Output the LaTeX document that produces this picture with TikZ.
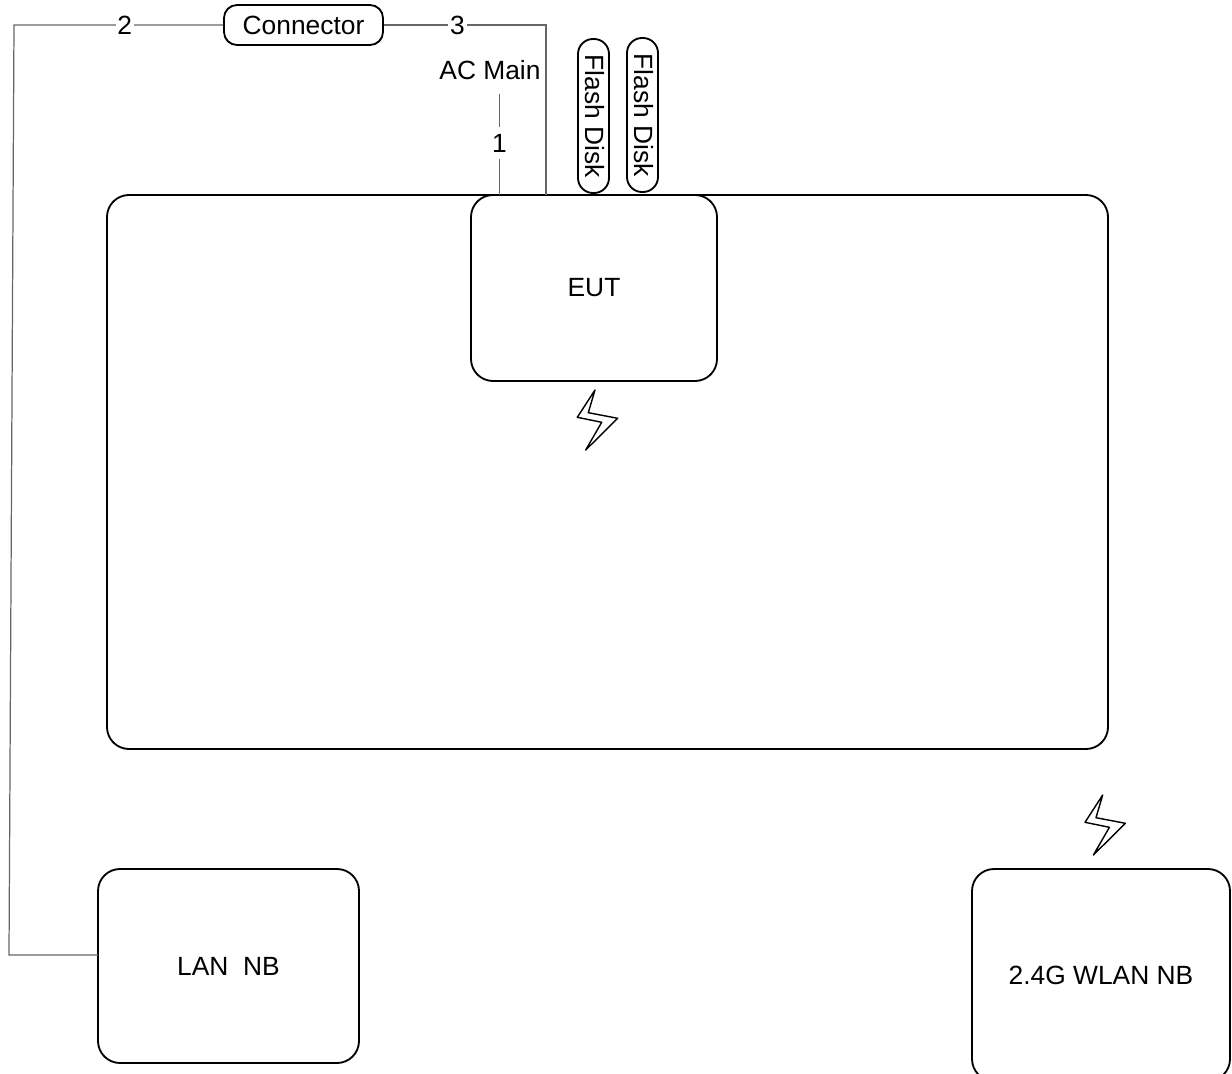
\documentclass[tikz,border=0pt]{standalone}
\usepackage{fontspec}
\setmainfont{Liberation Sans}
\usetikzlibrary{positioning,calc}
\definecolor{cable}{HTML}{666666}

\begin{document}
\begin{tikzpicture}[
  font=\fontsize{15}{18}\selectfont,
  box/.style={draw, line width=1.05pt, rounded corners=0.44cm, align=center, inner sep=0pt},
  disk/.style={box, rounded corners=0.3cm, rotate=-90, text depth=2pt, minimum width=3.08cm, minimum height=0.62cm},
  wire/.style={draw=cable, line width=0.7pt},
  num/.style={fill=white, inner xsep=1pt, inner ysep=4pt},
  bolt/.pic={\draw[line width=0.8pt, line join=round]
    (0,0) -- (-.354,-.546) -- (.134,-.646) -- (-.186,-1.2) -- (.454,-.566) -- (-.134,-.454) -- cycle;}
]
  \useasboundingbox (0,0) rectangle (24.64,-21.48);

  % --- room and EUT
  \node[box, minimum width=20.02cm, minimum height=11.08cm] (room) at (12.15,-9.44) {};
  \node[box, minimum width=4.92cm, minimum height=3.72cm] (eut) at (11.88,-5.76) {EUT};
  \node[disk] (flashA) at (11.87,-2.32) {Flash Disk};
  \node[disk] (flashB) at (12.85,-2.30) {Flash Disk};
  \pic (boltA) at (11.9,-7.8) {bolt};

  % --- outside the room
  \node[box, rounded corners=0.26cm, minimum width=3.18cm, minimum height=0.8cm] (conn) at (6.07,-0.5) {Connector};
  \node[box, minimum width=5.22cm, minimum height=3.88cm] (lan) at (4.57,-19.32) {LAN\ \ NB};
  \node[box, minimum width=5.16cm, minimum height=4.24cm] (wlan) at (22.02,-19.5) {2.4G WLAN NB};
  \pic (boltB) at (22.054,-15.9) {bolt};
  \node[inner sep=0pt, minimum height=0.96cm] (acmain) at (9.8,-1.4) {AC Main};

  % --- cables
  \coordinate (acport) at (9.99,-3.9);
  \coordinate (eutport) at (10.92,-3.9);
  \coordinate (corner3) at (10.92,-0.5);
  \coordinate (corner2) at (0.28,-0.5);
  \coordinate (cornerlan) at (0.18,-19.1);
  \coordinate (lanport) at (1.96,-19.1);
  \draw[wire] (acmain.south -| acport) -- (acport) node[num, pos=.485] {1};
  \draw[wire] (conn.west) -- (corner2) node[num, pos=.47] {2} -- (cornerlan) -- (lanport);
  \draw[wire] (conn.east) -- (corner3) node[num, pos=.454] {3} -- (eutport);
\end{tikzpicture}
\end{document}
